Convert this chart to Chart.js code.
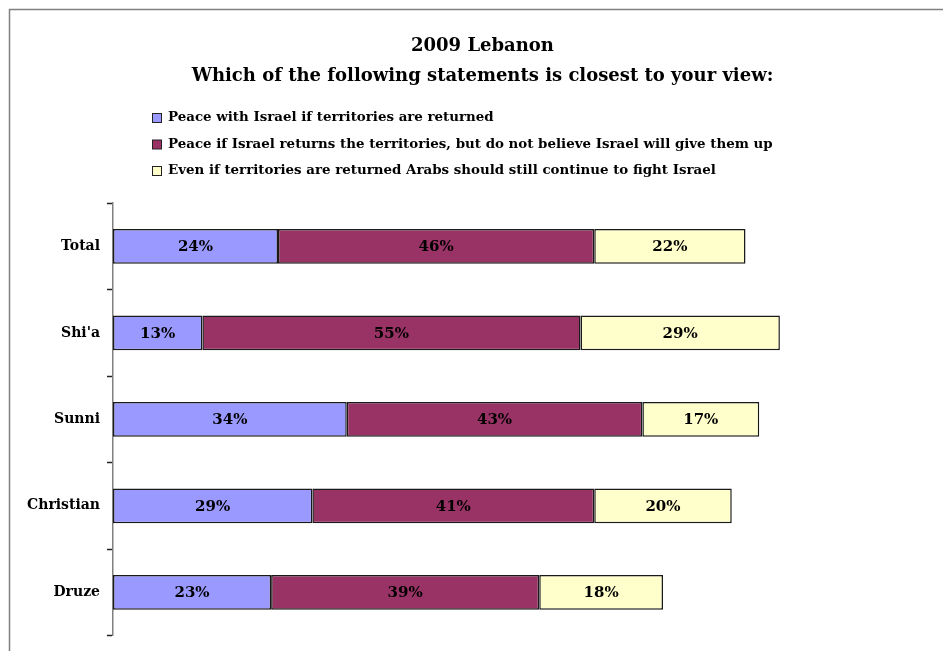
<!DOCTYPE html>
<html lang="en">
<head>
  <meta charset="UTF-8">
  <title>2009 Lebanon</title>
  <script src="https://cdn.jsdelivr.net/npm/chart.js"></script>
  <style>
    html, body { margin: 0; padding: 0; background: #fff; }
    #wrap { width: 943px; height: 651px; }
  </style>
</head>
<body>
  <div id="wrap"><canvas id="lebanonChart" width="943" height="651"></canvas></div>

  <script>
    // groups on the y axis
    const categories = ['Total', "Shi'a", 'Sunni', 'Christian', 'Druze'];

    // answer options
    const seriesNames = [
      'Peace with Israel if territories are returned',
      'Peace if Israel returns the territories, but do not believe Israel will give them up',
      'Even if territories are returned Arabs should still continue to fight Israel'
    ];

    // percentages per group
    const peaceIfReturned = [24, 13, 34, 29, 23];
    const peaceButDoubt = [46, 55, 43, 41, 39];
    const continueFight = [22, 29, 17, 20, 18];

    const seriesColors = ['#9999ff', '#993366', '#ffffcc'];
    const serifFont = "'DejaVu Serif', 'Liberation Serif', serif";

    // grey frame round the chart
    const framePlugin = {
      id: 'frame',
      beforeDraw(chart) {
        const ctx = chart.ctx;
        ctx.save();
        ctx.strokeStyle = '#808080';
        ctx.lineWidth = 1.5;
        ctx.beginPath();
        ctx.moveTo(9.5, chart.height);
        ctx.lineTo(9.5, 9.5);
        ctx.lineTo(chart.width, 9.5);
        ctx.stroke();
        ctx.restore();
      }
    };

    // legend stacked one item per line under the title
    const stackedLegend = {
      id: 'stackedLegend',
      afterDraw(chart) {
        const ctx = chart.ctx;
        ctx.save();
        ctx.font = 'bold 13.4px ' + serifFont;
        ctx.textBaseline = 'middle';
        ctx.textAlign = 'left';
        chart.data.datasets.forEach((ds, i) => {
          const y = 118 + i * 26.5;
          ctx.fillStyle = ds.backgroundColor;
          ctx.fillRect(152.5, y - 4.5, 9, 9);
          ctx.strokeStyle = '#222';
          ctx.lineWidth = 1;
          ctx.strokeRect(152.5, y - 4.5, 9, 9);
          ctx.fillStyle = '#000';
          ctx.fillText(ds.label, 168, y);
        });
        ctx.restore();
      }
    };

    // percentage written in the middle of every segment
    const segmentLabels = {
      id: 'segmentLabels',
      afterDatasetsDraw(chart) {
        const ctx = chart.ctx;
        ctx.save();
        ctx.font = 'bold 15px ' + serifFont;
        ctx.fillStyle = '#000';
        ctx.textAlign = 'center';
        ctx.textBaseline = 'middle';
        chart.data.datasets.forEach((ds, i) => {
          chart.getDatasetMeta(i).data.forEach((bar, j) => {
            const p = bar.getCenterPoint();
            ctx.fillText(ds.data[j] + '%', p.x, p.y + 1);
          });
        });
        ctx.restore();
      }
    };

    const datasets = [peaceIfReturned, peaceButDoubt, continueFight].map((values, i) => ({
      label: seriesNames[i],
      data: values,
      backgroundColor: seriesColors[i],
      borderColor: '#1a1a1a',
      borderWidth: 1.5,
      borderSkipped: false,
      barPercentage: 0.4,
      categoryPercentage: 1
    }));

    new Chart(document.getElementById('lebanonChart'), {
      type: 'bar',
      data: { labels: categories, datasets: datasets },
      plugins: [framePlugin, stackedLegend, segmentLabels],
      options: {
        indexAxis: 'y',
        responsive: false,
        animation: false,
        layout: { padding: { left: 27, right: 5, top: 0, bottom: 13 } },
        plugins: {
          legend: { display: false },
          tooltip: { enabled: false },
          title: {
            display: true,
            text: ['2009 Lebanon', 'Which of the following statements is closest to your view:'],
            color: '#000',
            font: { family: serifFont, size: 18, weight: 'bold', lineHeight: 1.67 },
            padding: { top: 31, bottom: 112 }
          }
        },
        scales: {
          x: {
            stacked: true,
            min: 0,
            max: 120,
            display: false
          },
          y: {
            stacked: true,
            afterFit(scale) { scale.width = 86; },
            grid: {
              offset: true,
              drawOnChartArea: false,
              tickLength: 6,
              tickWidth: 1.5,
              color: '#222'
            },
            border: { display: true, color: '#808080', width: 1.5 },
            ticks: {
              padding: 7,
              color: '#000',
              font: { family: serifFont, size: 14, weight: 'bold' }
            }
          }
        }
      }
    });
  </script>
</body>
</html>
